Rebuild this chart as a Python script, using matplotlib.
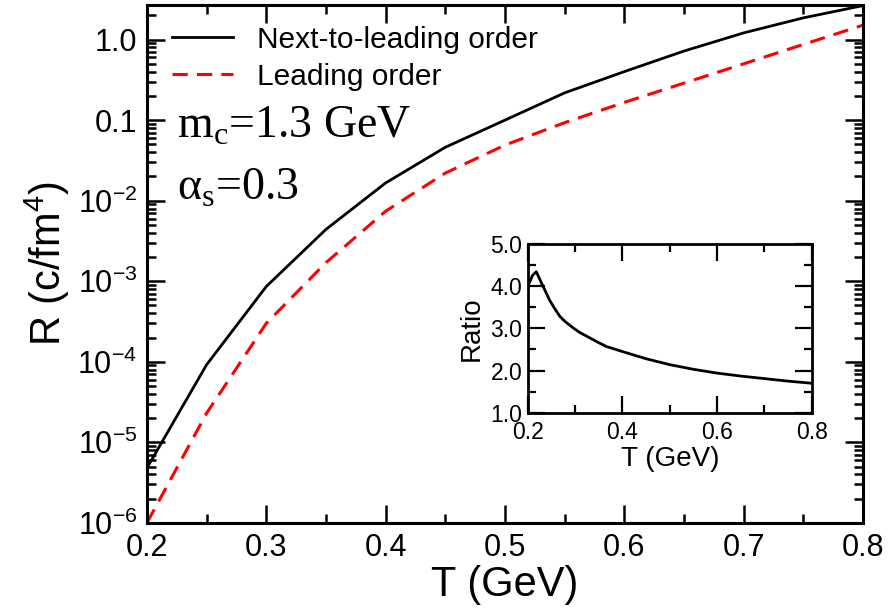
import numpy as np
import matplotlib
matplotlib.use("Agg")
import matplotlib.pyplot as plt
from matplotlib.ticker import MultipleLocator, LogLocator, NullFormatter

plt.rcParams['font.family'] = ['Liberation Sans', 'DejaVu Sans']
plt.rcParams['mathtext.fontset'] = 'custom'
plt.rcParams['mathtext.rm'] = 'Liberation Sans'

# main panel data
T = [0.20, 0.25, 0.30, 0.35, 0.40, 0.45, 0.50, 0.55, 0.60, 0.65, 0.70, 0.75, 0.80]
R_nlo = [4.8e-6, 9.2e-5, 8.6e-4, 4.4e-3, 0.0166, 0.046, 0.100, 0.218, 0.40, 0.72, 1.21, 1.86, 2.64]
R_lo = [1.0e-6, 2.3e-5, 3.0e-4, 1.7e-3, 7.4e-3, 0.022, 0.049, 0.093, 0.166, 0.288, 0.50, 0.87, 1.51]

# inset data
T_ratio = [0.200, 0.210, 0.218, 0.230, 0.246, 0.255, 0.268, 0.280, 0.296, 0.310, 0.330,
           0.350, 0.366, 0.40, 0.45, 0.50, 0.55, 0.60, 0.65, 0.70, 0.75, 0.80]
ratio = [3.99, 4.25, 4.34, 4.05, 3.67, 3.50, 3.28, 3.15, 3.01, 2.90, 2.78,
         2.66, 2.57, 2.45, 2.28, 2.14, 2.03, 1.94, 1.87, 1.81, 1.75, 1.70]

ytick_vals = [1e-6, 1e-5, 1e-4, 1e-3, 1e-2, 0.1, 1.0]
ytick_labels = ['10$^{\\mathregular{-6}}$', '10$^{\\mathregular{-5}}$', '10$^{\\mathregular{-4}}$',
                '10$^{\\mathregular{-3}}$', '10$^{\\mathregular{-2}}$', '0.1', '1.0']
xtick_vals = [0.2, 0.3, 0.4, 0.5, 0.6, 0.7, 0.8]
inset_xticks = [0.2, 0.4, 0.6, 0.8]
inset_yticks = [1.0, 2.0, 3.0, 4.0, 5.0]

fig = plt.figure(figsize=(8.96, 6.08), dpi=100)
ax = fig.add_axes([0.164, 0.140, 0.799, 0.852])

ax.plot(T, R_nlo, color='black', lw=2.0, label='Next-to-leading order')
ax.plot(T, R_lo, color='red', lw=2.2, dashes=(5, 3), label='Leading order')
ax.set_yscale('log')
ax.set_xlim(0.2, 0.8)
ax.set_ylim(1e-6, 2.7)

ax.set_yticks(ytick_vals)
ax.set_yticklabels(ytick_labels)
ax.yaxis.set_minor_locator(LogLocator(base=10, subs=np.arange(2, 10)))
ax.yaxis.set_minor_formatter(NullFormatter())
ax.set_xticks(xtick_vals)
ax.set_xticklabels(['%.1f' % v for v in xtick_vals])
ax.xaxis.set_minor_locator(MultipleLocator(0.05))

ax.tick_params(which='both', direction='in', top=True, right=True, width=1.8, labelsize=22)
ax.tick_params(which='major', length=13, pad=7)
ax.tick_params(which='minor', length=6.5)
for s in ax.spines.values():
    s.set_linewidth(2.2)

ax.set_xlabel('T (GeV)', fontsize=30, labelpad=2)
ax.set_ylabel('R (c/fm$^{\\mathregular{4}}$)', fontsize=30, labelpad=4)

ax.legend(loc='upper left', bbox_to_anchor=(0.035, 0.96), frameon=False, fontsize=21.5,
          borderaxespad=0, borderpad=0, handlelength=2.05, handletextpad=0.8, labelspacing=0.3)

ax.text(0.042, 0.743, 'm$_\\mathregular{c}$=1.3 GeV', transform=ax.transAxes,
        family='Liberation Serif', fontsize=33, va='baseline')
ax.text(0.042, 0.624, 'α$_\\mathregular{s}$=0.3', transform=ax.transAxes,
        family='Liberation Serif', fontsize=33, va='baseline')

# inset with the NLO / LO ratio
ins = fig.add_axes([0.589, 0.321, 0.317, 0.278])
ins.plot(T_ratio, ratio, color='black', lw=2.0)
ins.set_xlim(0.2, 0.8)
ins.set_ylim(1.0, 5.0)
ins.set_xticks(inset_xticks)
ins.set_xticklabels(['%.1f' % v for v in inset_xticks])
ins.set_yticks(inset_yticks)
ins.set_yticklabels(['%.1f' % v for v in inset_yticks])
ins.xaxis.set_minor_locator(MultipleLocator(0.1))
ins.yaxis.set_minor_locator(MultipleLocator(0.5))
ins.tick_params(which='both', direction='in', top=True, right=True, width=1.6, labelsize=16.5)
ins.tick_params(which='major', length=12)
ins.tick_params(axis='x', which='major', pad=6)
ins.tick_params(axis='y', which='major', pad=4)
ins.tick_params(which='minor', length=6)
for s in ins.spines.values():
    s.set_linewidth(2.0)
ins.set_xlabel('T (GeV)', fontsize=20, labelpad=1)
ins.set_ylabel('Ratio', fontsize=20, labelpad=4)

fig.savefig('out.png', dpi=100)
